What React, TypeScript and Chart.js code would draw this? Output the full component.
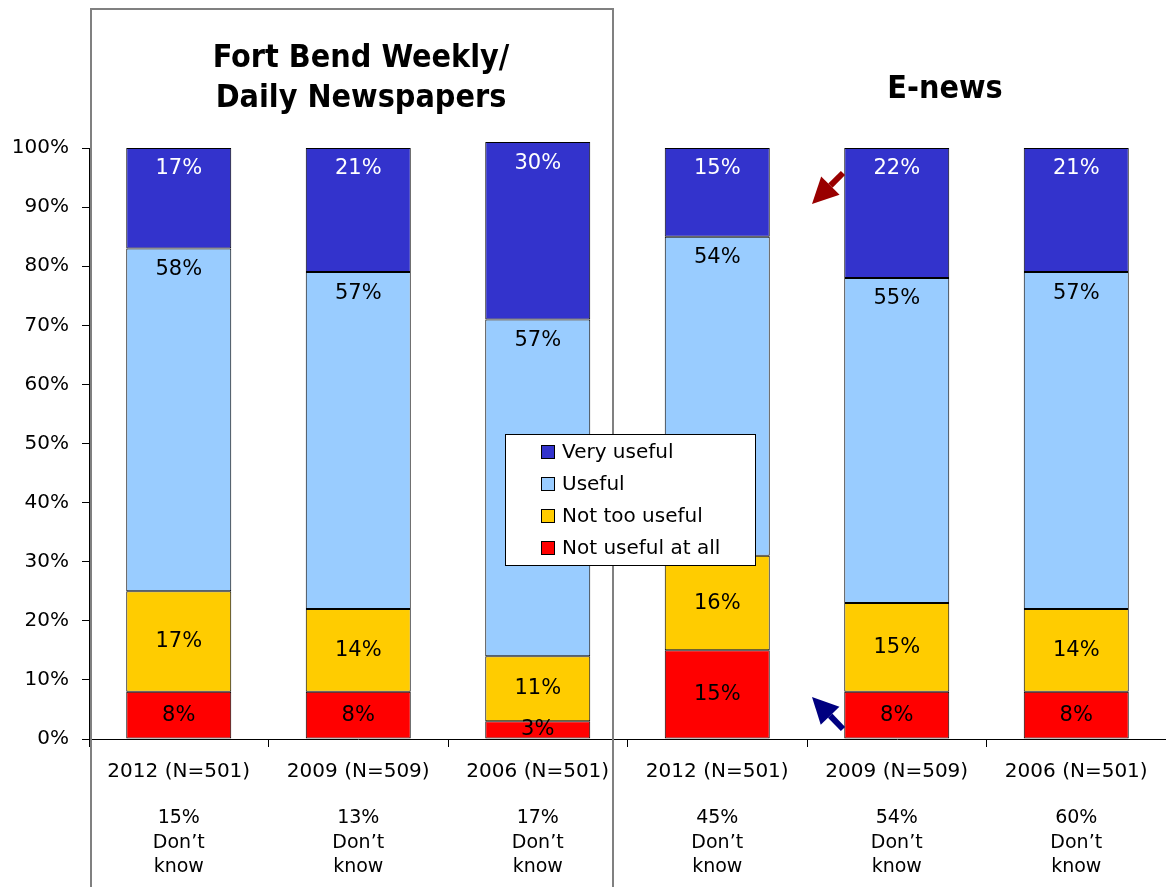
import React, { useEffect, useRef } from "react";
import { Chart, registerables } from "chart.js";

Chart.register(...registerables);

const categories = [
  "2012 (N=501)",
  "2009 (N=509)",
  "2006 (N=501)",
  "2012 (N=501)",
  "2009 (N=509)",
  "2006 (N=501)",
];
const notUsefulAtAll = [8, 8, 3, 15, 8, 8];
const notTooUseful = [17, 14, 11, 16, 15, 14];
const useful = [58, 57, 57, 54, 55, 57];
const veryUseful = [17, 21, 30, 15, 22, 21];
const dontKnow = [15, 13, 17, 45, 54, 60];
const seriesNames = ["Not useful at all", "Not too useful", "Useful", "Very useful"];
const seriesColors = ["#FF0000", "#FFCC00", "#99CCFF", "#3333CC"];
const groupTitles = [["Fort Bend Weekly/", "Daily Newspapers"], ["E-news"]];

const FONT = '"DejaVu Sans", Verdana, sans-serif';
const TITLE_FONT = '"DejaVu Sans Condensed", "DejaVu Sans", sans-serif';

function drawArrow(ctx: CanvasRenderingContext2D, x1: number, y1: number, x2: number, y2: number, color: string) {
  const ang = Math.atan2(y2 - y1, x2 - x1);
  const headLen = 26;
  const headHalf = 13;
  const bx = x2 - headLen * Math.cos(ang);
  const by = y2 - headLen * Math.sin(ang);
  ctx.save();
  ctx.strokeStyle = color;
  ctx.fillStyle = color;
  ctx.lineWidth = 6;
  ctx.beginPath();
  ctx.moveTo(x1, y1);
  ctx.lineTo(bx, by);
  ctx.stroke();
  ctx.beginPath();
  ctx.moveTo(x2, y2);
  ctx.lineTo(bx + headHalf * Math.sin(ang), by - headHalf * Math.cos(ang));
  ctx.lineTo(bx - headHalf * Math.sin(ang), by + headHalf * Math.cos(ang));
  ctx.closePath();
  ctx.fill();
  ctx.restore();
}

const overlayPlugin = {
  id: "overlay",
  afterDatasetsDraw(chart: any) {
    const ctx: CanvasRenderingContext2D = chart.ctx;
    ctx.save();
    ctx.font = `21px ${FONT}`;
    ctx.textAlign = "center";
    ctx.textBaseline = "middle";
    chart.data.datasets.forEach((ds: any, i: number) => {
      const meta = chart.getDatasetMeta(i);
      meta.data.forEach((bar: any, j: number) => {
        const v = ds.data[j];
        const top = Math.min(bar.y, bar.base);
        const bottom = Math.max(bar.y, bar.base);
        const y = i < 2 ? (top + bottom) / 2 : top + 21;
        ctx.fillStyle = i === 3 ? "#FFFFFF" : "#000000";
        ctx.fillText(`${v}%`, bar.x, y);
      });
    });
    ctx.restore();
  },
  afterDraw(chart: any) {
    const ctx: CanvasRenderingContext2D = chart.ctx;
    const xs = chart.scales.x;
    ctx.save();

    // Don't know labels
    ctx.font = `19px ${FONT}`;
    ctx.fillStyle = "#000";
    ctx.textAlign = "center";
    ctx.textBaseline = "middle";
    dontKnow.forEach((v, i) => {
      const x = xs.getPixelForValue(i);
      ctx.fillText(`${v}%`, x, 818);
      ctx.fillText("Don\u2019t", x, 843);
      ctx.fillText("know", x, 867);
    });

    // Titles
    ctx.font = `bold 32px ${TITLE_FONT}`;
    ctx.textBaseline = "alphabetic";
    ctx.fillText(groupTitles[0][0], 361, 67);
    ctx.fillText(groupTitles[0][1], 361, 107);
    ctx.fillText(groupTitles[1][0], 945, 98);

    // Group box
    ctx.strokeStyle = "#808080";
    ctx.lineWidth = 2;
    ctx.strokeRect(91, 9, 522, 900);

    // Legend
    const lx = 505, ly = 434, lw = 250, lh = 131;
    ctx.fillStyle = "#FFFFFF";
    ctx.fillRect(lx, ly, lw, lh);
    ctx.strokeStyle = "#000";
    ctx.lineWidth = 1;
    ctx.strokeRect(lx + 0.5, ly + 0.5, lw, lh);
    ctx.font = `20px ${FONT}`;
    ctx.textAlign = "left";
    ctx.textBaseline = "middle";
    const order = [3, 2, 1, 0];
    order.forEach((si, k) => {
      const cy = 452 + k * 32;
      ctx.fillStyle = seriesColors[si];
      ctx.fillRect(541, cy - 6, 13, 13);
      ctx.strokeStyle = "#000";
      ctx.strokeRect(541.5, cy - 6.5, 13, 13);
      ctx.fillStyle = "#000";
      ctx.fillText(seriesNames[si], 562, cy + 1);
    });

    // Arrows
    drawArrow(ctx, 843, 173, 812, 204, "#990000");
    drawArrow(ctx, 843, 729, 812, 697, "#000080");

    ctx.restore();
  },
};

export default function App() {
  const canvasRef = useRef<HTMLCanvasElement | null>(null);

  useEffect(() => {
    document.body.style.margin = "0";
    const canvas = canvasRef.current;
    if (!canvas) return;
    const values = [notUsefulAtAll, notTooUseful, useful, veryUseful];
    const chart = new Chart(canvas, {
      type: "bar",
      data: {
        labels: categories,
        datasets: values.map((d, i) => ({
          label: seriesNames[i],
          data: d,
          backgroundColor: seriesColors[i],
          borderColor: "#000000",
          borderWidth: 1,
          borderSkipped: false,
          barPercentage: 0.585,
          categoryPercentage: 1,
          clip: false as any,
        })),
      },
      options: {
        animation: false,
        responsive: true,
        maintainAspectRatio: false,
        layout: { padding: { top: 148, left: 0, right: 0, bottom: 0 } },
        plugins: {
          legend: { display: false },
          title: { display: false },
          tooltip: { enabled: false },
        },
        scales: {
          x: {
            stacked: true,
            offset: true,
            grid: {
              offset: true,
              drawOnChartArea: false,
              drawTicks: true,
              tickLength: 8,
              color: "#000",
            },
            border: { display: true, color: "#000", width: 1 },
            ticks: {
              color: "#000",
              font: { family: FONT, size: 20 },
              padding: 13,
              maxRotation: 0,
              autoSkip: false,
            },
            afterFit: (s: any) => {
              s.height = 148;
            },
          },
          y: {
            stacked: true,
            min: 0,
            max: 100,
            grid: {
              drawOnChartArea: false,
              drawTicks: true,
              tickLength: 7,
              color: "#000",
            },
            border: { display: true, color: "#000", width: 1 },
            ticks: {
              stepSize: 10,
              color: "#000",
              font: { family: FONT, size: 20 },
              padding: 13,
              callback: (v: any) => `${v}%`,
            },
            afterFit: (s: any) => {
              s.width = 89;
            },
          },
        },
      },
      plugins: [overlayPlugin],
    });
    return () => chart.destroy();
  }, []);

  return (
    <div style={{ position: "absolute", left: 0, top: 0, width: 1166, height: 887, background: "#fff" }}>
      <canvas ref={canvasRef} />
    </div>
  );
}
